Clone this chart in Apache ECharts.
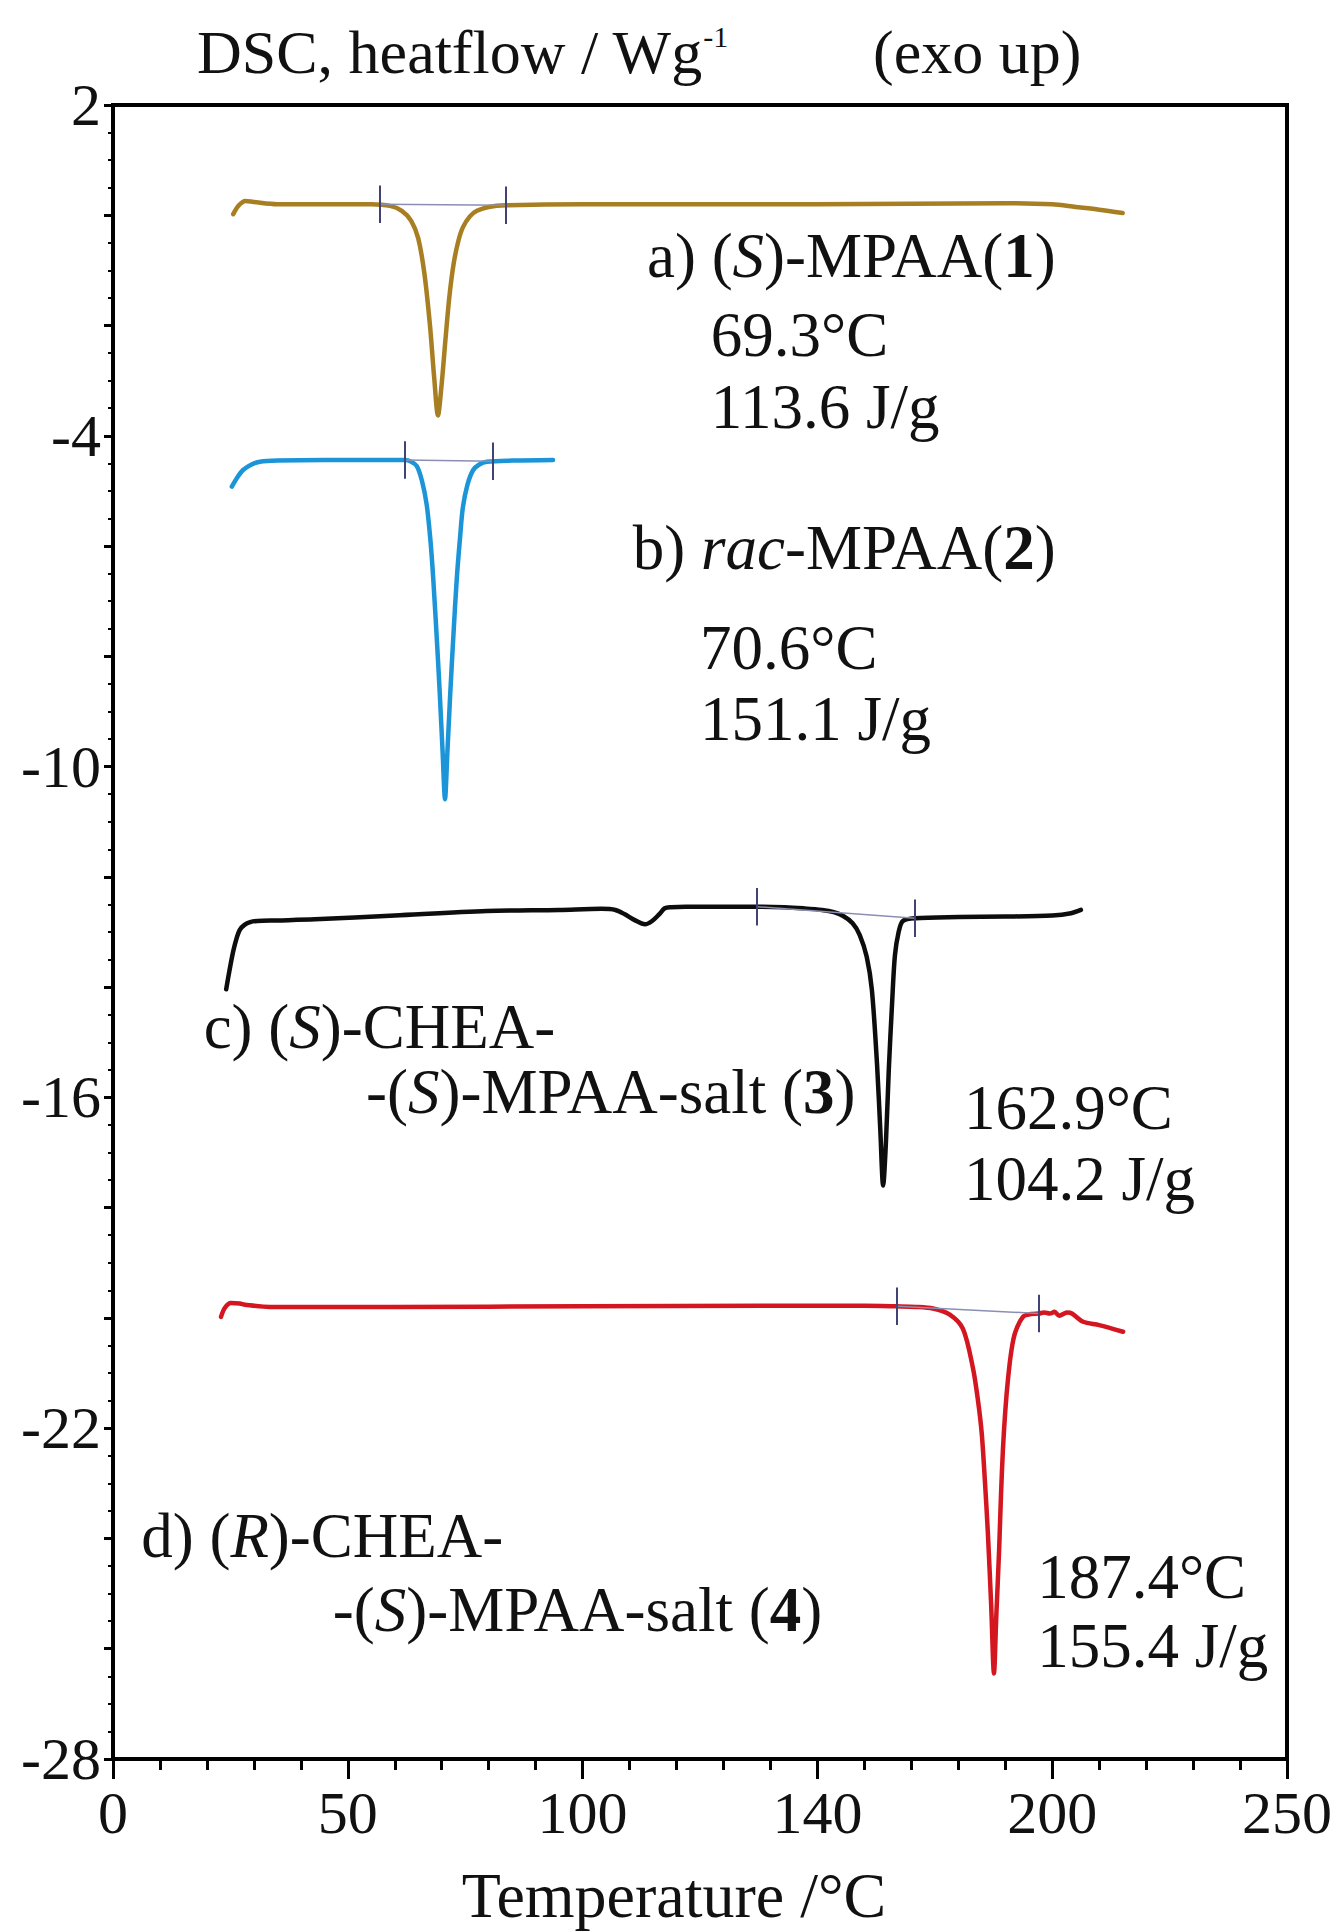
<!DOCTYPE html>
<html>
<head>
<meta charset="utf-8">
<script src="https://cdn.jsdelivr.net/npm/echarts@6/dist/echarts.min.js"></script>
<style>
html,body{margin:0;padding:0;background:#ffffff;}
#chart{width:1340px;height:1932px;}
</style>
</head>
<body>
<div id="chart"></div>
<script>
// ---------- tick labels ----------
const xTickLabels = ['0', '50', '100', '140', '200', '250'];
const yTickLabels = [2, -4, -10, -16, -22, -28];

// ---------- a) (S)-MPAA(1) ----------
const tempA = [25.6, 26.8, 28.2, 30, 35, 45, 55, 59, 61.5, 63.5, 65, 66.3, 67.5, 68.4, 69.2, 70.0, 70.8, 71.6, 72.5, 73.5, 74.5, 76, 77.5, 80, 83.7, 100, 150, 190, 200, 205, 210, 215];
const heatA = [0.02, 0.18, 0.26, 0.24, 0.2, 0.2, 0.2, 0.17, 0.08, -0.1, -0.42, -1.05, -2.0, -2.95, -3.63, -3.05, -2.25, -1.5, -0.9, -0.48, -0.22, -0.02, 0.08, 0.15, 0.18, 0.2, 0.2, 0.22, 0.2, 0.15, 0.1, 0.04];
const markA = [[56.9, 0.2], [83.7, 0.18]];

// ---------- b) rac-MPAA(2) ----------
const tempB = [25.3, 26.5, 27.7, 29.5, 31.3, 35, 45, 55, 62.2, 63.5, 64.7, 65.8, 66.8, 67.6, 68.2, 69, 69.6, 70.2, 70.7, 71.2, 71.8, 72.5, 73.2, 73.9, 74.5, 75.5, 76.7, 78, 79.6, 85, 93.7];
const heatB = [-4.92, -4.75, -4.62, -4.52, -4.47, -4.45, -4.44, -4.44, -4.44, -4.47, -4.55, -4.82, -5.25, -5.9, -6.6, -7.75, -8.7, -9.75, -10.59, -9.75, -8.7, -7.6, -6.6, -5.85, -5.3, -4.88, -4.62, -4.52, -4.47, -4.45, -4.44];
const markB = [[62.2, -4.44], [80.9, -4.46]];

// ---------- c) (S)-CHEA-(S)-MPAA-salt (3) ----------
const tempC = [24.1, 24.8, 25.6, 26.3, 27, 28, 29.2, 30.7, 35, 43, 60, 79.6, 95, 104, 107, 109, 111, 113.3, 114.8, 116.3, 117.5, 118.8, 122, 130, 137.1, 143, 147, 151, 153.5, 155.5, 157.5, 159, 160.5, 161.6, 162.7, 163.4, 164, 164.6, 165.2, 165.9, 166.5, 167.3, 168.2, 170.8, 180, 190, 200, 204, 206.1];
const heatC = [-14.04, -13.7, -13.35, -13.12, -12.96, -12.87, -12.82, -12.8, -12.79, -12.77, -12.7, -12.62, -12.6, -12.58, -12.6, -12.68, -12.78, -12.86, -12.8, -12.68, -12.57, -12.55, -12.54, -12.54, -12.54, -12.55, -12.57, -12.6, -12.64, -12.71, -12.84, -13.05, -13.45, -14.05, -15.4, -16.6, -17.6, -16.8, -15.5, -14.3, -13.43, -13.0, -12.8, -12.75, -12.73, -12.72, -12.7, -12.66, -12.6];
const markC = [[137.1, -12.54], [170.8, -12.75]];

// ---------- d) (R)-CHEA-(S)-MPAA-salt (4) ----------
const tempD = [23.0, 23.8, 25.1, 27, 28.1, 33.4, 60, 100, 140, 160, 166.9, 171, 174.6, 178.2, 181, 183.1, 184.2, 185, 185.7, 186.3, 187, 187.6, 188.1, 188.7, 189.1, 189.5, 190, 190.6, 191.3, 192.1, 193.8, 195.5, 197.2, 198.3, 199.5, 200.5, 201.5, 202.3, 203.2, 204.2, 206.6, 210, 215.1];
const heatD = [-19.98, -19.82, -19.73, -19.74, -19.76, -19.8, -19.8, -19.79, -19.78, -19.78, -19.79, -19.8, -19.83, -19.94, -20.2, -20.9, -21.5, -22.1, -23.0, -23.9, -25.2, -26.45, -25.4, -24.2, -23.2, -22.4, -21.7, -21.1, -20.6, -20.27, -19.98, -19.93, -19.92, -19.9, -19.92, -19.89, -19.96, -19.93, -19.9, -19.92, -20.07, -20.13, -20.25];
const markD = [[166.9, -19.79], [197.2, -19.92]];

// ---------- annotations (text, anchor temperature, anchor heatflow) ----------
const annoTexts = [
  '{n|a) (}{i|S}{n|)-MPAA(}{b|1}{n|)}',
  '{n|69.3°C}',
  '{n|113.6 J/g}',
  '{n|b) }{i|rac}{n|-MPAA(}{b|2}{n|)}',
  '{n|70.6°C}',
  '{n|151.1 J/g}',
  '{n|c) (}{i|S}{n|)-CHEA-}',
  '{n|-(}{i|S}{n|)-MPAA-salt (}{b|3}{n|)}',
  '{n|162.9°C}',
  '{n|104.2 J/g}',
  '{n|d) (}{i|R}{n|)-CHEA-}',
  '{n|-(}{i|S}{n|)-MPAA-salt (}{b|4}{n|)}',
  '{n|187.4°C}',
  '{n|155.4 J/g}'
];
const annoT = [113.7, 127.3, 127.3, 110.7, 125, 125, 19.3, 53.9, 181.2, 181.2, 6.0, 46.8, 196.8, 196.8];
const annoV = [-0.73, -2.17, -3.47, -6.04, -7.84, -9.13, -14.72, -15.9, -16.2, -17.48, -23.95, -25.3, -24.69, -25.95];

// ---------- styles ----------
const FONT = "'Liberation Serif', 'Times New Roman', serif";
const MARK_HALF = 0.34;
const markColor = '#3f4272';
const baseColor = '#8b8fb4';

function zip(t, v) { return t.map((x, i) => [x, v[i]]); }

function markerLines(m) {
  const out = [];
  out.push([{ coord: m[0], lineStyle: { color: baseColor, width: 1.5, type: 'solid' } }, { coord: m[1] }]);
  m.forEach(p => {
    out.push([{ coord: [p[0], p[1] - MARK_HALF], lineStyle: { color: markColor, width: 2, type: 'solid' } },
              { coord: [p[0], p[1] + MARK_HALF] }]);
  });
  return out;
}

function curve(name, t, v, color, marks) {
  return {
    name: name,
    type: 'line',
    data: zip(t, v),
    showSymbol: false,
    smooth: 0.3,
    lineStyle: { color: color, width: 4.5, cap: 'round', join: 'round' },
    itemStyle: { color: color },
    z: 3,
    markLine: {
      silent: true,
      symbol: 'none',
      label: { show: false },
      animation: false,
      z: 4,
      data: markerLines(marks)
    }
  };
}

const chart = echarts.init(document.getElementById('chart'), null, { renderer: 'svg' });

chart.setOption({
  animation: false,
  backgroundColor: '#ffffff',
  grid: {
    left: 113, right: 53, top: 105, bottom: 159,
    show: true, borderColor: '#000', borderWidth: 4, backgroundColor: 'transparent'
  },
  xAxis: {
    type: 'value', min: 0, max: 250, interval: 50,
    name: 'Temperature /°C',
    nameLocation: 'middle',
    nameGap: 104,
    nameTextStyle: { fontFamily: FONT, fontSize: 64, color: '#111', padding: [0, 52, 0, 0] },
    axisLine: { show: true, onZero: false, lineStyle: { color: '#000', width: 4 } },
    axisTick: { show: true, inside: false, length: 20, lineStyle: { color: '#000', width: 3 } },
    minorTick: { show: true, splitNumber: 5, length: 11, lineStyle: { color: '#000', width: 3 } },
    splitLine: { show: false },
    minorSplitLine: { show: false },
    axisLabel: {
      showMinLabel: true, showMaxLabel: true,
      margin: 24,
      fontFamily: FONT, fontSize: 60, color: '#111',
      formatter: function (v) { const i = Math.round(v / 50); return xTickLabels[i] !== undefined ? xTickLabels[i] : ''; }
    }
  },
  yAxis: {
    type: 'value', min: -28, max: 2, interval: 2,
    axisLine: { show: true, onZero: false, lineStyle: { color: '#000', width: 4 } },
    axisTick: { show: true, inside: false, length: 9, lineStyle: { color: '#000', width: 3 } },
    minorTick: { show: true, splitNumber: 4, length: 5, lineStyle: { color: '#000', width: 2 } },
    splitLine: { show: false },
    minorSplitLine: { show: false },
    axisLabel: {
      showMinLabel: true, showMaxLabel: true,
      margin: 12,
      fontFamily: FONT, fontSize: 60, color: '#111',
      formatter: function (v) { return yTickLabels.indexOf(Math.round(v)) >= 0 ? String(Math.round(v)) : ''; }
    }
  },
  series: [
    curve('a) (S)-MPAA(1)', tempA, heatA, '#a87e22', markA),
    curve('b) rac-MPAA(2)', tempB, heatB, '#1b95d8', markB),
    curve('c) (S)-CHEA-(S)-MPAA-salt (3)', tempC, heatC, '#0d0d0d', markC),
    curve('d) (R)-CHEA-(S)-MPAA-salt (4)', tempD, heatD, '#d3161f', markD)
  ]
});

const rich = {
  n: { fontFamily: FONT, fontSize: 63, fill: '#111', color: '#111' },
  i: { fontFamily: FONT, fontSize: 63, fontStyle: 'italic', fill: '#111', color: '#111' },
  b: { fontFamily: FONT, fontSize: 63, fontWeight: 'bold', fill: '#111', color: '#111' },
  m: { fontFamily: FONT, fontSize: 62, lineHeight: 62, fill: '#111', color: '#111' },
  s: { fontFamily: FONT, fontSize: 30, lineHeight: 30, verticalAlign: 'top', fill: '#111', color: '#111' }
};

const graphics = [];
annoTexts.forEach((txt, i) => {
  const p = chart.convertToPixel({ gridIndex: 0 }, [annoT[i], annoV[i]]);
  graphics.push({
    type: 'text', x: p[0], y: p[1], silent: true, z: 10,
    style: { text: txt, rich: rich, align: 'left', verticalAlign: 'middle', fill: '#111' }
  });
});
graphics.push({
  type: 'text', x: 197, y: 52, silent: true, z: 10,
  style: { text: '{m|DSC, heatflow / Wg}{s|-1}', rich: rich, align: 'left', verticalAlign: 'middle', fill: '#111' }
});
graphics.push({
  type: 'text', x: 873, y: 52, silent: true, z: 10,
  style: { text: '{m|(exo up)}', rich: rich, align: 'left', verticalAlign: 'middle', fill: '#111' }
});

chart.setOption({ graphic: graphics });
</script>
</body>
</html>
